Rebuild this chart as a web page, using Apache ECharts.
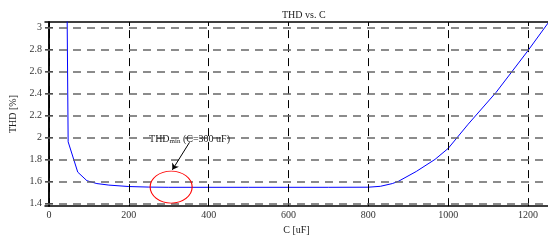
<!DOCTYPE html>
<html>
<head>
<meta charset="utf-8">
<script src="https://cdn.jsdelivr.net/npm/echarts@6/dist/echarts.min.js"></script>
<style>
  html, body { margin: 0; padding: 0; background: #fff; }
  #chart { width: 548px; height: 240px; }
</style>
</head>
<body>
<div id="chart"></div>
<script>
// C [uF] vs THD [%]
const capValues = [45, 48, 72, 95, 120, 150, 200, 250, 300, 400, 500, 600, 700, 800, 830, 860, 875, 920, 967, 1000, 1050, 1120, 1200, 1250]
const thdValues = [3.3, 1.96, 1.684, 1.606, 1.58, 1.566, 1.553, 1.548, 1.546, 1.546, 1.546, 1.546, 1.546, 1.547, 1.555, 1.58, 1.6, 1.69, 1.8, 1.9, 2.12, 2.41, 2.79, 3.04]
const xTicks = [0, 200, 400, 600, 800, 1000, 1200]
const yTicks = [1.4, 1.6, 1.8, 2, 2.2, 2.4, 2.6, 2.8, 3]
// annotation: marked minimum, label and arrow (data coords)
const minMark = [306, 1.548]
const noteAt = [352, 1.985]
const arrowFrom = [352, 1.955]
const arrowTo = [309, 1.705]

const serif = 'Liberation Serif'
const xMin = -10, xMax = 1250, yMin = 1.375, yMax = 3.05

const chart = echarts.init(document.getElementById('chart'), null, {renderer: 'canvas'})

const axisLine = {show: true, lineStyle: {color: '#000', width: 1.5}}
const tick = (vals) => ({show: true, inside: true, length: 4, customValues: vals, lineStyle: {color: '#000'}})

const option = {
  animation: false,
  backgroundColor: '#fff',
  title: {
    text: 'THD vs. C',
    left: 277, top: 5,
    textStyle: {fontFamily: serif, fontSize: 10, fontWeight: 'normal', color: '#222'}
  },
  grid: {left: 45, right: 0, top: 22, bottom: 25},
  xAxis: [{
    type: 'value', min: xMin, max: xMax,
    name: 'C [uF]', nameLocation: 'middle', nameGap: 18,
    nameTextStyle: {fontFamily: serif, fontSize: 10, color: '#222'},
    axisLine: axisLine,
    axisTick: tick(xTicks),
    axisLabel: {customValues: xTicks, formatter: v => String(v), fontFamily: serif, fontSize: 10, color: '#333', margin: 4},
    splitLine: {show: false}
  }, {
    type: 'value', min: xMin, max: xMax, position: 'top',
    axisLine: axisLine, axisTick: tick(xTicks),
    axisLabel: {show: false}, splitLine: {show: false}
  }],
  yAxis: [{
    type: 'value', min: yMin, max: yMax,
    name: 'THD [%]', nameLocation: 'middle', nameGap: 21,
    nameTextStyle: {fontFamily: serif, fontSize: 10, color: '#222'},
    axisLine: axisLine,
    axisTick: tick(yTicks),
    axisLabel: {customValues: yTicks, formatter: v => String(v), fontFamily: serif, fontSize: 10, color: '#333', margin: 3},
    splitLine: {show: false}
  }, {
    type: 'value', min: yMin, max: yMax, position: 'right',
    axisLine: axisLine, axisTick: tick(yTicks),
    axisLabel: {show: false}, splitLine: {show: false}
  }],
  series: [{
    // dashed grid
    type: 'line', data: [], silent: true,
    markLine: {
      silent: true, symbol: 'none', label: {show: false}, animation: false,
      data: xTicks.map(v => ({xAxis: v, lineStyle: {color: '#000', width: 1, type: [8, 6]}}))
        .concat(yTicks.map(v => ({yAxis: v, lineStyle: {color: '#666', width: 1.6, type: [8, 6]}})))
    }
  }, {
    type: 'line',
    data: capValues.map((c, i) => [c, thdValues[i]]),
    showSymbol: false,
    lineStyle: {color: '#0000ff', width: 1},
    clip: true,
    markPoint: {
      silent: true, animation: false,
      data: [{
        coord: minMark, symbol: 'circle', symbolSize: [42, 32],
        itemStyle: {color: 'transparent', borderColor: '#ff0000', borderWidth: 1},
        label: {show: false}
      }, {
        coord: noteAt, symbol: 'circle', symbolSize: 0,
        label: {
          show: true, position: 'inside',
          formatter: '{a|THD}{s|min}{a| (C=300 uF)}',
          rich: {
            a: {fontFamily: serif, fontSize: 10, color: '#222'},
            s: {fontFamily: serif, fontSize: 7, color: '#222', padding: [5, 0, 0, 0]}
          }
        }
      }]
    },
    markLine: {
      silent: true, animation: false, symbol: ['none', 'arrow'], symbolSize: 6,
      label: {show: false},
      lineStyle: {color: '#000', width: 1, type: 'solid'},
      data: [[{coord: arrowFrom}, {coord: arrowTo}]]
    }
  }]
}

chart.setOption(option)
</script>
</body>
</html>
